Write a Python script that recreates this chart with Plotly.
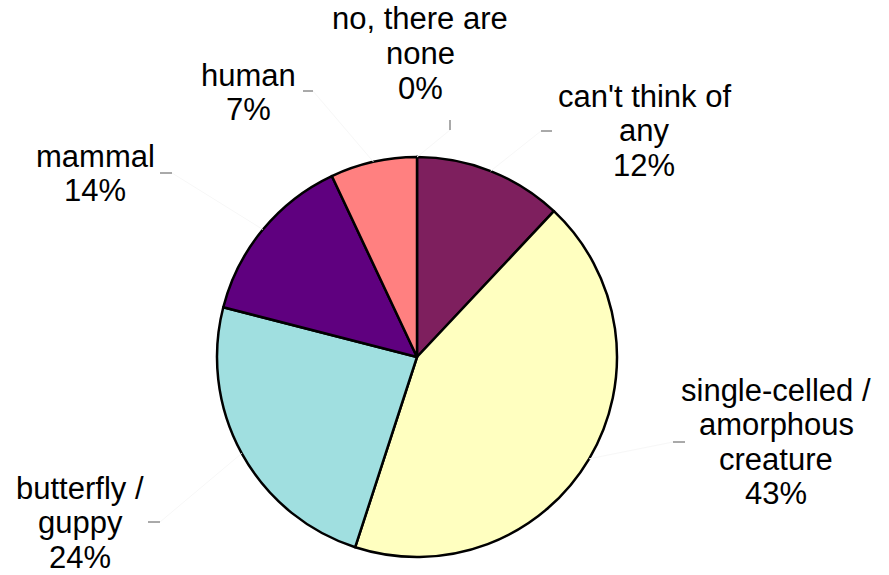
import math
import plotly.graph_objects as go

W, H = 889, 575

categories = ["no, there are none", "can't think of any", "single-celled / amorphous creature",
              "butterfly / guppy", "mammal", "human"]
label_lines = [["no, there are", "none"], ["can't think of", "any"],
               ["single-celled /", "amorphous", "creature"], ["butterfly /", "guppy"],
               ["mammal"], ["human"]]
values = [0, 12, 43, 24, 14, 7]
colors = ["#FFFFFF", "#7E1F5E", "#FFFFC0", "#A0DFE0", "#5F007F", "#FF8080"]

# layout: label block centre (px) & first-line y, plus dash marker position
label_pos = [(420, 19), (644, 96), (776, 390), (80, 488), (95, 156), (248, 75)]
dash_pos = [(450, 120, 450, 130), (541, 131, 552, 131), (673, 442, 685, 442),
            (148, 522, 160, 522), (160, 173, 172, 173), (303, 91, 313, 91)]
line_h = 34.5
cx, cy, r = 417, 357, 200

def px(x):
    return x / W

def py(y):
    return 1 - y / H

fig = go.Figure(go.Pie(
    labels=categories, values=values, sort=False, direction="clockwise", rotation=0,
    marker=dict(colors=colors, line=dict(color="black", width=2.5)),
    textinfo="none", hoverinfo="label+percent", showlegend=False,
    domain=dict(x=[px(cx - r), px(cx + r)], y=[py(cy + r), py(cy - r)]),
))

total = sum(values)
annotations = []
shapes = []
cum = 0
for i, v in enumerate(values):
    mid = (cum + v / 2) / total * 2 * math.pi
    cum += v
    ex, ey = cx + r * math.sin(mid), cy - r * math.cos(mid)
    lines = label_lines[i] + [f"{round(v / total * 100)}%"]
    lx, ly = label_pos[i]
    for j, t in enumerate(lines):
        annotations.append(dict(x=px(lx), y=py(ly + j * line_h), xref="paper", yref="paper",
                                text=t, showarrow=False, xanchor="center", yanchor="middle",
                                font=dict(family="Liberation Sans, Arial, sans-serif", size=31, color="black")))
    x0, y0, x1, y1 = dash_pos[i]
    if x0 == x1:
        tx, ty = x0, y1
    elif lx > cx:
        tx, ty = x0, y0
    else:
        tx, ty = x1, y1
    shapes.append(dict(type="line", xref="paper", yref="paper", x0=px(ex), y0=py(ey),
                       x1=px(tx), y1=py(ty), line=dict(color="#F7F7F7", width=1)))
    shapes.append(dict(type="line", xref="paper", yref="paper", x0=px(x0), y0=py(y0),
                       x1=px(x1), y1=py(y1), line=dict(color="#555555", width=1)))

fig.update_layout(width=W, height=H, margin=dict(l=0, r=0, t=0, b=0),
                  paper_bgcolor="white", plot_bgcolor="white",
                  annotations=annotations, shapes=shapes)
fig.write_html("out.html")
